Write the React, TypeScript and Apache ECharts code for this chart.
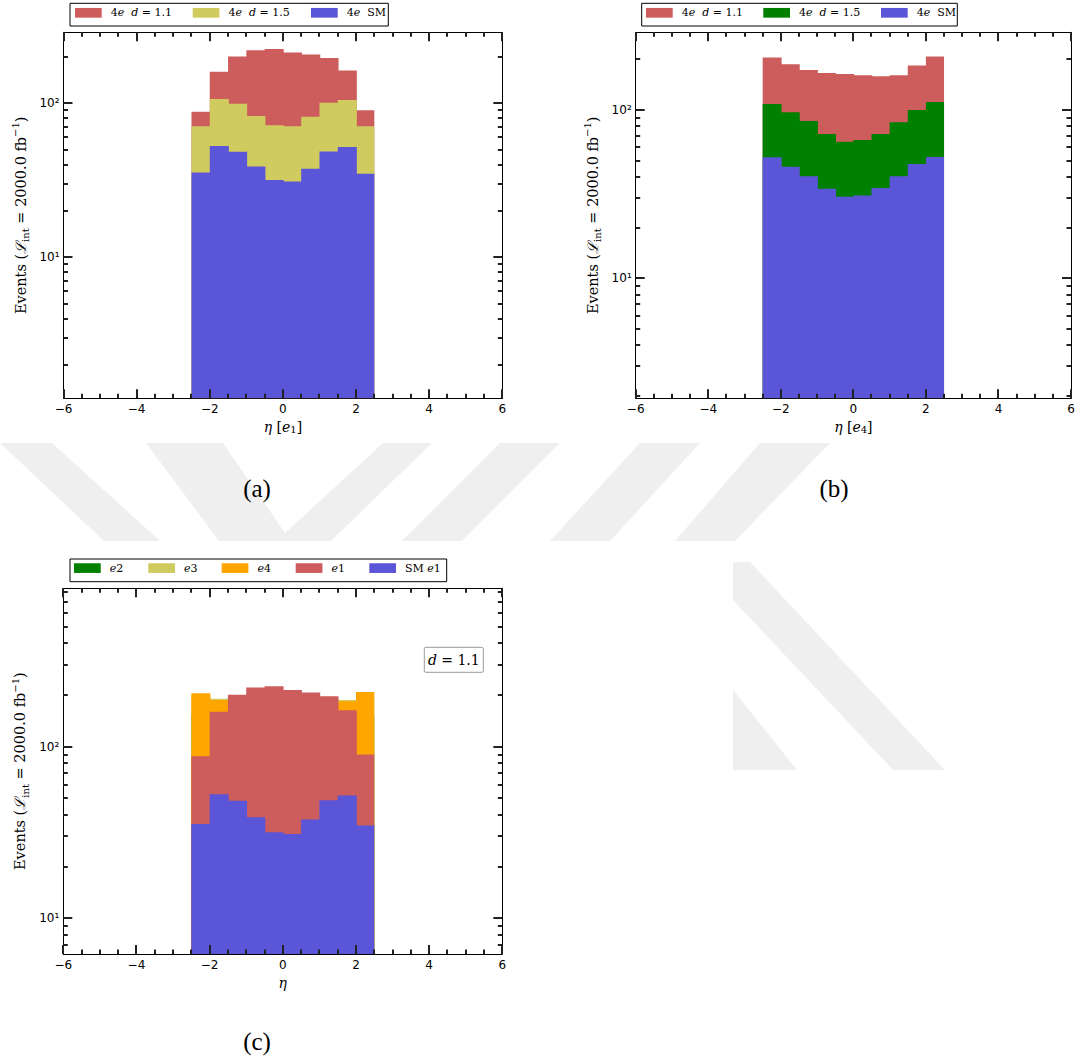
import React, { useEffect, useRef } from 'react';
import * as echarts from 'echarts';

// Histogram bin edges in pseudorapidity (10 bins of width 0.5)
const BIN_EDGES = [-2.5, -2, -1.5, -1, -0.5, 0, 0.5, 1, 1.5, 2, 2.5];

// Leading electron (e1), 2000 fb^-1
const E1_D11 = [88, 160, 201, 221, 225, 214, 207, 197, 163, 90];
const E1_D15 = [70.9, 106.6, 99.4, 82.7, 71.9, 70.9, 81.8, 100.9, 105.1, 70.9];
const E1_SM = [35.5, 52.8, 48.4, 38.8, 31.7, 31.0, 37.6, 48.7, 52.0, 34.8];

// Fourth electron (e4)
const E4_D11 = [205, 187, 173, 166, 164, 161, 159, 161, 184, 208];
const E4_D15 = [108.6, 96.9, 86.0, 72.0, 64.8, 66.3, 72.0, 84.5, 100, 111.6];
const E4_SM = [52.4, 46.0, 40.5, 34.1, 30.5, 31.1, 34.4, 40.5, 47.8, 52.6];

// Second and third electrons at d = 1.1 (mostly covered by e4 / e1)
const E2_D11 = [150, 185, 195, 200, 200, 198, 196, 190, 182, 152];
const E3_D11 = [195, 190, 178, 170, 166, 165, 168, 176, 187, 196];

// Axis ticks
const X_MIN = -6;
const X_MAX = 6;
const X_STEP = 2;
const X_MAJOR = [-6, -4, -2, 0, 2, 4, 6];
const X_MINOR = [-5.5, -5, -4.5, -3.5, -3, -2.5, -1.5, -1, -0.5, 0.5, 1, 1.5, 2.5, 3, 3.5, 4.5, 5, 5.5];
const Y_MAJOR = [1, 10, 100, 1000];
const Y_MINOR = [2, 3, 4, 5, 6, 7, 8, 9, 20, 30, 40, 50, 60, 70, 80, 90, 200, 300, 400, 500, 600, 700, 800, 900];
const MAJOR_LEN = 9;
const MINOR_LEN = 4.5;

const RED = '#cd5c5c';
const YELLOW = '#cfcb5f';
const GREEN = '#008000';
const ORANGE = '#ffa500';
const BLUE = '#5b55d8';

const SERIF = '"DejaVu Serif", serif';
const SANS = '"DejaVu Sans", sans-serif';
const TIMES = '"Liberation Serif", "Times New Roman", serif';

const SUP: Record<number, string> = { 0: '\u2070', 1: '\u00b9', 2: '\u00b2', 3: '\u00b3' };

const Y_NAME = 'Events ({it|\u2112}{sub|int} = 2000.0 fb{sup|\u22121})';

const LEGEND_LABEL: Record<string, string> = {
  '4e d=1.1': '4{it|e}  {it|d} = 1.1',
  '4e d=1.5': '4{it|e}  {it|d} = 1.5',
  '4e SM': '4{it|e}  SM',
  e2: '{it|e}2',
  e3: '{it|e}3',
  e4: '{it|e}4',
  e1: '{it|e}1',
  'SM e1': 'SM {it|e}1',
};

type Layer = { name: string; color: string; values: number[] };
type Panel = {
  grid: { left: number; top: number; width: number; height: number };
  yMin: number;
  yMax: number;
  xName: string;
  layers: Layer[];
  legendBox: [number, number, number, number];
  legendX: number[];
  legendTop: number;
  yNameGap: number;
};

const PANELS: Panel[] = [
  {
    grid: { left: 63.5, top: 32.3, width: 438.8, height: 366 },
    yMin: 1.214,
    yMax: 289,
    xName: '{it|\u03b7} [{it|e}{sub|1}]',
    layers: [
      { name: '4e d=1.1', color: RED, values: E1_D11 },
      { name: '4e d=1.5', color: YELLOW, values: E1_D15 },
      { name: '4e SM', color: BLUE, values: E1_SM },
    ],
    legendBox: [70, 3.3, 318.3, 22.7],
    legendX: [75, 192.7, 311],
    legendTop: 7.3,
    yNameGap: 33,
  },
  {
    grid: { left: 635.7, top: 32.3, width: 435.3, height: 366 },
    yMin: 1.94,
    yMax: 289.6,
    xName: '{it|\u03b7} [{it|e}{sub|4}]',
    layers: [
      { name: '4e d=1.1', color: RED, values: E4_D11 },
      { name: '4e d=1.5', color: GREEN, values: E4_D15 },
      { name: '4e SM', color: BLUE, values: E4_SM },
    ],
    legendBox: [641.7, 3.3, 315.6, 22.7],
    legendX: [646, 763.3, 881],
    legendTop: 7.3,
    yNameGap: 33,
  },
  {
    grid: { left: 63.3, top: 588.3, width: 439, height: 365.7 },
    yMin: 6.2,
    yMax: 837,
    xName: '{it|\u03b7}',
    layers: [
      { name: 'e2', color: GREEN, values: E2_D11 },
      { name: 'e3', color: YELLOW, values: E3_D11 },
      { name: 'e4', color: ORANGE, values: E4_D11 },
      { name: 'e1', color: RED, values: E1_D11 },
      { name: 'SM e1', color: BLUE, values: E1_SM },
    ],
    legendBox: [70, 559, 376.7, 22.7],
    legendX: [74, 148.3, 221.7, 295.7, 369.3],
    legendTop: 562.6,
    yNameGap: 33,
  },
];

// Light background emblem shapes
const EMBLEM: number[][][] = [
  [[0, 443], [52, 443], [160, 541], [104, 541]],
  [[146, 443], [223, 443], [285, 533], [383, 443], [432, 443], [331, 541], [219, 541]],
  [[500, 443], [560, 443], [462, 541], [402, 541]],
  [[640, 443], [700, 443], [610, 541], [550, 541]],
  [[760, 443], [830, 443], [735, 541], [675, 541]],
  [[733, 562], [750, 562], [945, 770], [893, 770], [733, 600]],
  [[733, 690], [797, 770], [733, 770]],
];

const fmtX = (v: number) => (v < 0 ? '\u2212' + Math.abs(v) : String(v));
const fmtY = (v: number) => '10' + (SUP[Math.round(Math.log10(v))] ?? '');

const axisLine = { show: true, onZero: false, lineStyle: { color: '#000', width: 1 } };

const serifRich = {
  it: { fontStyle: 'italic', fontFamily: SERIF },
  sub: { fontFamily: SERIF, fontSize: 10, verticalAlign: 'bottom' },
  sup: { fontFamily: SERIF, fontSize: 10, verticalAlign: 'top' },
};

function binData(values: number[]) {
  return values.map((v, i) => [BIN_EDGES[i], BIN_EDGES[i + 1], v]);
}

function histSeries(layer: Layer, p: number, yMin: number) {
  const last = layer.values.length - 1;
  return {
    type: 'custom',
    name: layer.name,
    coordinateSystem: 'cartesian2d',
    xAxisIndex: 2 * p,
    yAxisIndex: 2 * p,
    data: binData(layer.values),
    encode: { x: [0, 1], y: 2 },
    clip: true,
    silent: true,
    z: 2,
    itemStyle: { color: layer.color },
    renderItem: (params: any, api: any) => {
      const tl = api.coord([api.value(0), api.value(2)]);
      const br = api.coord([api.value(1), yMin]);
      // neighbouring bins overlap slightly so no seam shows between them
      const extra = params.dataIndex < last ? 0.8 : 0;
      return {
        type: 'rect',
        shape: { x: tl[0], y: tl[1], width: br[0] - tl[0] + extra, height: br[1] - tl[1] },
        style: { fill: layer.color },
      };
    },
  };
}

// Inward tick marks on the four sides of a panel, positioned through the axes' scales.
// Each item: [x, y, length, side]; side 0 = bottom, 1 = top, 2 = left, 3 = right.
function tickSeries(p: number, panel: Panel) {
  const inRange = (list: number[]) => list.filter((v) => v > panel.yMin && v < panel.yMax);
  const yMid = Math.sqrt(panel.yMin * panel.yMax);
  const xTicks = [...X_MAJOR.map((v) => [v, MAJOR_LEN]), ...X_MINOR.map((v) => [v, MINOR_LEN])];
  const yTicks = [...inRange(Y_MAJOR).map((v) => [v, MAJOR_LEN]), ...inRange(Y_MINOR).map((v) => [v, MINOR_LEN])];
  const data: number[][] = [];
  xTicks.forEach(([v, len]) => {
    data.push([v, yMid, len, 0]);
    data.push([v, yMid, len, 1]);
  });
  yTicks.forEach(([v, len]) => {
    data.push([0, v, len, 2]);
    data.push([0, v, len, 3]);
  });
  return {
    type: 'custom',
    name: 'ticks',
    coordinateSystem: 'cartesian2d',
    xAxisIndex: 2 * p,
    yAxisIndex: 2 * p,
    data,
    encode: { x: 0, y: 1 },
    clip: false,
    silent: true,
    z: 10,
    renderItem: (params: any, api: any) => {
      const cs = params.coordSys;
      const pt = api.coord([api.value(0), api.value(1)]);
      const len = api.value(2);
      const side = api.value(3);
      let shape;
      if (side === 0 || side === 1) {
        const x = Math.round(pt[0]);
        const y0 = side === 0 ? cs.y + cs.height : cs.y;
        const dir = side === 0 ? -1 : 1;
        shape = { x1: x, y1: y0, x2: x, y2: y0 + dir * len };
      } else {
        const y = Math.round(pt[1]);
        const x0 = side === 2 ? cs.x : cs.x + cs.width;
        const dir = side === 2 ? 1 : -1;
        shape = { x1: x0, y1: y, x2: x0 + dir * len, y2: y };
      }
      return { type: 'line', shape, style: { stroke: '#222', lineWidth: 2, fill: null } };
    },
  };
}

function xAxes(p: number, panel: Panel) {
  const common = {
    gridIndex: p,
    type: 'value',
    min: X_MIN,
    max: X_MAX,
    interval: X_STEP,
    axisLine,
    splitLine: { show: false },
    minorSplitLine: { show: false },
    axisTick: { show: false },
    minorTick: { show: false },
  };
  return [
    {
      ...common,
      position: 'bottom',
      axisLabel: { show: true, margin: 5, color: '#000', fontFamily: SANS, fontSize: 12, formatter: fmtX },
      name: panel.xName,
      nameLocation: 'middle',
      nameGap: 22,
      nameTextStyle: { color: '#000', fontFamily: SERIF, fontSize: 14, rich: serifRich },
    },
    { ...common, position: 'top', axisLabel: { show: false } },
  ];
}

function yAxes(p: number, panel: Panel) {
  const major = Y_MAJOR.filter((v) => v >= panel.yMin && v <= panel.yMax);
  const base = {
    gridIndex: p,
    type: 'log',
    logBase: 10,
    min: panel.yMin,
    max: panel.yMax,
    axisLine,
    splitLine: { show: false },
    axisTick: { show: false },
    minorTick: { show: false },
    minorSplitLine: { show: false },
  };
  return [
    {
      ...base,
      position: 'left',
      axisLabel: { show: true, customValues: major, formatter: fmtY, margin: 4, color: '#000', fontFamily: SANS, fontSize: 12 },
      name: Y_NAME,
      nameLocation: 'middle',
      nameRotate: 90,
      nameGap: panel.yNameGap,
      nameTextStyle: { color: '#000', fontFamily: SERIF, fontSize: 14.5, lineHeight: 20, rich: serifRich },
    },
    { ...base, position: 'right', axisLabel: { show: false } },
  ];
}

function buildOption() {
  const grid = PANELS.map((p) => ({ ...p.grid, containLabel: false, outerBoundsMode: 'none' }));
  const xAxis = PANELS.flatMap((p, i) => xAxes(i, p));
  const yAxis = PANELS.flatMap((p, i) => yAxes(i, p));
  const series = PANELS.flatMap((p, i) => [
    ...p.layers.map((l) => histSeries(l, i, p.yMin)),
    tickSeries(i, p),
  ]);

  const legend = PANELS.flatMap((p) =>
    p.layers.map((l, j) => ({
      left: p.legendX[j],
      top: p.legendTop,
      padding: 0,
      icon: 'rect',
      itemWidth: 26.7,
      itemHeight: 9.7,
      selectedMode: false,
      data: [{ name: l.name, itemStyle: { color: l.color, borderWidth: 0 } }],
      formatter: (name: string) => LEGEND_LABEL[name] ?? name,
      textStyle: {
        color: '#000',
        fontFamily: SERIF,
        fontSize: 11,
        padding: [0, 0, 0, 4],
        rich: { it: { fontStyle: 'italic', fontFamily: SERIF, fontSize: 11 } },
      },
    }))
  );

  const graphic: any[] = [];
  EMBLEM.forEach((pts) =>
    graphic.push({ type: 'polygon', z: 0, silent: true, shape: { points: pts }, style: { fill: '#efefef' } })
  );
  PANELS.forEach((p) => {
    const [x, y, w, h] = p.legendBox;
    graphic.push({
      type: 'rect',
      z: 1,
      silent: true,
      shape: { x, y, width: w, height: h },
      style: { fill: '#fff', stroke: '#000', lineWidth: 1 },
    });
  });
  // parameter box inside panel (c)
  graphic.push({
    type: 'rect',
    z: 5,
    silent: true,
    shape: { x: 424.3, y: 647.3, width: 59, height: 25, r: 1.5 },
    style: { fill: '#fff', stroke: '#9a9a9a', lineWidth: 1 },
  });
  graphic.push({
    type: 'text',
    z: 6,
    silent: true,
    x: 453.8,
    y: 660,
    style: {
      text: '{it|d} = 1.1',
      fill: '#000',
      fontFamily: SERIF,
      fontSize: 14,
      align: 'center',
      verticalAlign: 'middle',
      rich: { it: { fontStyle: 'italic', fontFamily: SERIF, fontSize: 14 } },
    },
  });
  [
    ['(a)', 257, 488],
    ['(b)', 834, 488],
    ['(c)', 257, 1041],
  ].forEach(([t, x, y]) =>
    graphic.push({
      type: 'text',
      z: 6,
      silent: true,
      x,
      y,
      style: { text: t, fill: '#000', fontFamily: TIMES, fontSize: 25, align: 'center', verticalAlign: 'middle' },
    })
  );

  return {
    animation: false,
    backgroundColor: '#fff',
    grid,
    xAxis,
    yAxis,
    series,
    legend,
    graphic,
  };
}

export default function App() {
  const ref = useRef<HTMLDivElement>(null);
  useEffect(() => {
    const chart = echarts.init(ref.current as HTMLDivElement, null, { renderer: 'svg' });
    chart.setOption(buildOption() as any);
    return () => chart.dispose();
  }, []);
  return (
    <div
      ref={ref}
      style={{ position: 'absolute', left: 0, top: 0, width: 1086, height: 1059, background: '#fff' }}
    />
  );
}
